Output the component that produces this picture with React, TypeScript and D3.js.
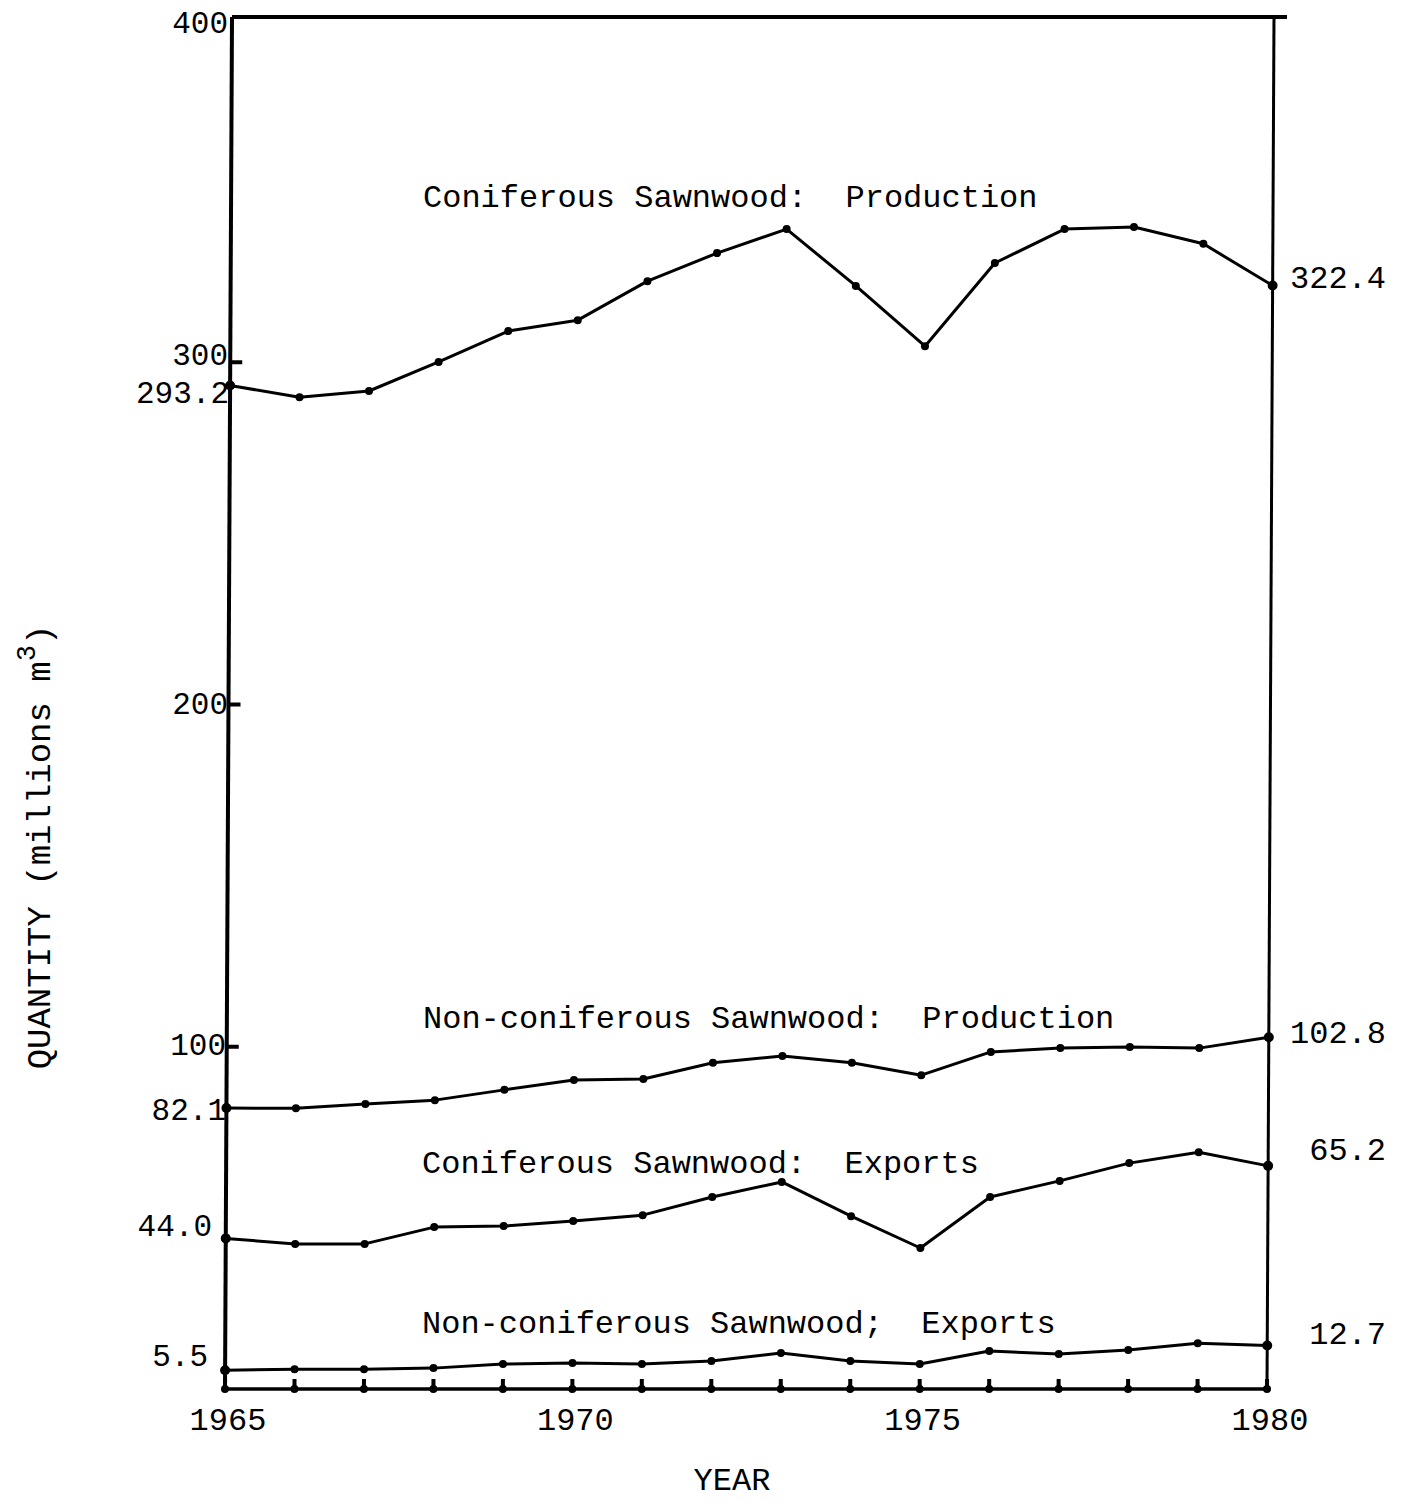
import React from "react";
import * as d3 from "d3";

const years = [1965, 1966, 1967, 1968, 1969, 1970, 1971, 1972, 1973, 1974, 1975, 1976, 1977, 1978, 1979, 1980];

const coniferousProduction = [293.2, 289.8, 291.6, 300.1, 309.1, 312.3, 323.7, 331.9, 338.9, 322.3, 304.7, 329.0, 338.9, 339.5, 334.6, 322.4];
const nonConiferousProduction = [82.1, 82.0, 83.3, 84.4, 87.4, 90.3, 90.6, 95.3, 97.3, 95.3, 91.7, 98.5, 99.6, 99.9, 99.6, 102.8];
const coniferousExports = [44.0, 42.4, 42.4, 47.3, 47.6, 49.1, 50.8, 56.1, 60.5, 50.5, 41.2, 56.1, 60.8, 66.0, 69.2, 65.2];
const nonConiferousExports = [5.5, 5.8, 5.8, 6.1, 7.3, 7.6, 7.3, 8.2, 10.5, 8.2, 7.3, 11.1, 10.2, 11.4, 13.4, 12.7];

const seriesLabels = [
  "Coniferous Sawnwood:  Production",
  "Non-coniferous Sawnwood:  Production",
  "Coniferous Sawnwood:  Exports",
  "Non-coniferous Sawnwood;  Exports",
];
const yTickValues = [400, 300, 200, 100];
const xTickLabels = [1965, 1970, 1975, 1980];

const W = 1405;
const H = 1502;
const FONT = "'Courier New', 'Liberation Mono', monospace";

export default function App() {
  const x = d3.scaleLinear().domain([1965, 1980]).range([225, 1267]);
  const y = d3.scaleLinear().domain([0, 400]).range([1389, 20]);
  const skew = 0.0051;
  const plotTransform = `matrix(1,0,${-skew},1,${skew * 1389},0)`;

  const allSeries = [coniferousProduction, nonConiferousProduction, coniferousExports, nonConiferousExports];
  const line = d3
    .line<number>()
    .x((_, i) => x(years[i]))
    .y((v) => y(v))
    .curve(d3.curveLinear);

  const labelPos = [
    { x: 423, y: 207 },
    { x: 423, y: 1028 },
    { x: 422, y: 1173 },
    { x: 422, y: 1333 },
  ];

  const leftVals = allSeries.map((s) => s[0]);
  const rightVals = allSeries.map((s) => s[s.length - 1]);
  const leftLabelDy = [17, 12, -2, -4];
  const rightLabelDy = [2, 6, -6, -2];
  const leftLabelRight = [229, 226, 212, 208];
  const yTickDy: Record<number, number> = { 400: 13, 300: 3, 200: 9, 100: 8 };

  const bottom = y(0);
  const top = 17;

  return (
    <svg width={W} height={H} style={{ position: "absolute", left: 0, top: 0, background: "#fff" }}>
      <rect x={0} y={0} width={W} height={H} fill="#fff" />
      <g transform={plotTransform}>
        {/* frame */}
        <line x1={x(1965)} y1={top} x2={x(1980) + 13} y2={top} stroke="#000" strokeWidth={4} />
        <line x1={x(1965)} y1={top} x2={x(1965)} y2={bottom} stroke="#000" strokeWidth={4} />
        <line x1={x(1980)} y1={top} x2={x(1980)} y2={bottom} stroke="#000" strokeWidth={3} />
        <line x1={x(1965)} y1={bottom} x2={x(1980)} y2={bottom} stroke="#000" strokeWidth={3.5} />
        {/* y ticks */}
        {yTickValues.slice(1).map((v) => (
          <line key={v} x1={x(1965)} y1={y(v)} x2={x(1965) + 12} y2={y(v)} stroke="#000" strokeWidth={4} />
        ))}
        {/* x ticks */}
        {years.map((yr) => (
          <g key={yr}>
            <line x1={x(yr)} y1={bottom} x2={x(yr)} y2={bottom - 10} stroke="#000" strokeWidth={4} />
            <circle cx={x(yr)} cy={bottom} r={4} fill="#000" />
          </g>
        ))}
        {/* series */}
        {allSeries.map((s, k) => (
          <g key={k}>
            <path d={line(s) || ""} fill="none" stroke="#000" strokeWidth={3} strokeLinejoin="round" />
            {s.map((v, i) => (
              <circle key={i} cx={x(years[i])} cy={y(v)} r={i === 0 || i === s.length - 1 ? 5 : 4} fill="#000" />
            ))}
          </g>
        ))}
      </g>

      {/* y tick labels */}
      {yTickValues.map((v) => (
        <text key={v} x={v === 100 ? 226 : 228} y={y(v) + yTickDy[v]} textAnchor="end" fontFamily={FONT} fontSize={31} fill="#000">
          {v}
        </text>
      ))}
      {/* start value labels */}
      {leftVals.map((v, k) => (
        <text key={k} x={leftLabelRight[k]} y={y(v) + leftLabelDy[k]} textAnchor="end" fontFamily={FONT} fontSize={31} fill="#000">
          {v.toFixed(1)}
        </text>
      ))}
      {/* end value labels */}
      {rightVals.map((v, k) => (
        <text key={k} x={1386} y={y(v) + rightLabelDy[k]} textAnchor="end" fontFamily={FONT} fontSize={32} fill="#000">
          {v.toFixed(1)}
        </text>
      ))}
      {/* series labels */}
      {seriesLabels.map((t, k) => (
        <text key={k} x={labelPos[k].x} y={labelPos[k].y} fontFamily={FONT} fontSize={32} fill="#000" style={{ whiteSpace: "pre" }} xmlSpace="preserve">
          {t}
        </text>
      ))}
      {/* x tick labels */}
      {xTickLabels.map((yr) => (
        <text key={yr} x={x(yr) + 3} y={1430} textAnchor="middle" fontFamily={FONT} fontSize={32} fill="#000">
          {yr}
        </text>
      ))}
      {/* axis titles */}
      <text x={732} y={1490} textAnchor="middle" fontFamily={FONT} fontSize={32} fill="#000">
        YEAR
      </text>
      <text
        transform={`translate(50, 847) rotate(-90)`}
        textAnchor="middle"
        fontFamily={FONT}
        fontSize={34}
        fill="#000"
      >
        QUANTITY (millions m<tspan dy={-15} fontSize={27}>3</tspan><tspan dy={15}>)</tspan>
      </text>
    </svg>
  );
}
